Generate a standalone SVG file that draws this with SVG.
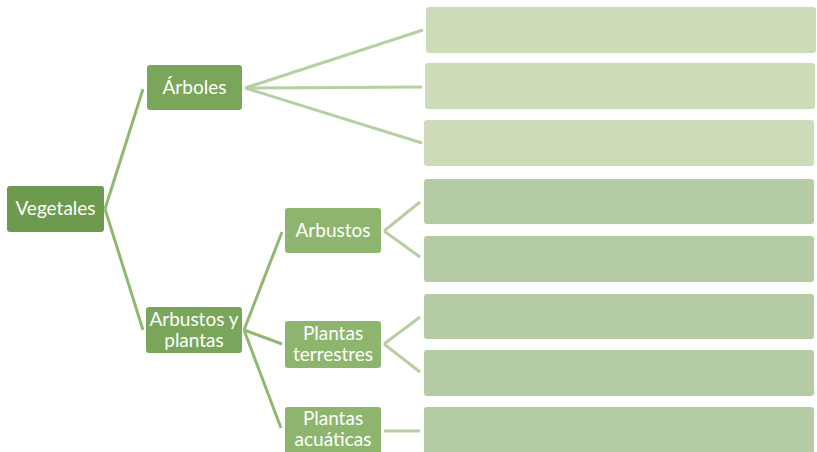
<svg xmlns="http://www.w3.org/2000/svg" width="817" height="452" viewBox="0 0 817 452">
<style>
.t{font-family:Lato,"Open Sans","Liberation Sans",sans-serif;font-size:19px;fill:#ffffff;text-anchor:middle}
.c1{stroke:#8fb870;stroke-width:3;fill:none}
.c2{stroke:#b7cfa2;stroke-width:3;fill:none}
.lt{fill:#cddbb8}
.dk{fill:#b4cba4}
</style>
<rect width="817" height="452" fill="#ffffff"/>
<g id="connectors">
<path class="c1" d="M105 209 L143 89 M105 209 L143 330"/>
<path class="c2" d="M245 88 L423 30 M245 88 L422 87 M245 88 L422 143"/>
<path class="c1" d="M244 330 L282 232 M244 330 L282 344 M244 330 L281 428"/>
<path class="c2" d="M384 231 L420 202 M384 231 L420 257 M384 344 L420 317 M384 344 L420 372 M384 431 L420 431"/>
</g>
<g id="n-vegetales"><rect x="7" y="186" width="97" height="46" rx="3" fill="#6d9a4c"/><text class="t" x="55.5" y="215">Vegetales</text></g>
<g id="n-arboles"><rect x="147" y="65" width="95" height="45" rx="3" fill="#79a65b"/><text class="t" x="194.5" y="94">Árboles</text></g>
<g id="n-arbustos-plantas"><rect x="146" y="307" width="96" height="46" rx="3" fill="#79a65b"/><text class="t" x="194" y="326">Arbustos y</text><text class="t" x="194" y="347">plantas</text></g>
<g id="n-arbustos"><rect x="285" y="208" width="96" height="45" rx="3" fill="#8db56d"/><text class="t" x="333" y="237">Arbustos</text></g>
<g id="n-terrestres"><rect x="285" y="321" width="96" height="47" rx="3" fill="#8db56d"/><text class="t" x="333" y="340">Plantas</text><text class="t" x="333" y="361">terrestres</text></g>
<g id="n-acuaticas"><rect x="285" y="407" width="96" height="50" rx="3" fill="#8db56d"/><text class="t" x="333" y="425">Plantas</text><text class="t" x="333" y="446">acuáticas</text></g>
<g id="b1"><rect class="lt" x="426" y="7" width="390" height="46" rx="3"/></g>
<g id="b2"><rect class="lt" x="425" y="63" width="390" height="46" rx="3"/></g>
<g id="b3"><rect class="lt" x="424" y="120" width="390" height="46" rx="3"/></g>
<g id="b4"><rect class="dk" x="424" y="179" width="390" height="45" rx="3"/></g>
<g id="b5"><rect class="dk" x="424" y="236" width="390" height="46" rx="3"/></g>
<g id="b6"><rect class="dk" x="424" y="294" width="390" height="45" rx="3"/></g>
<g id="b7"><rect class="dk" x="424" y="350" width="390" height="46" rx="3"/></g>
<g id="b8"><rect class="dk" x="424" y="407" width="390" height="50" rx="3"/></g>
</svg>
